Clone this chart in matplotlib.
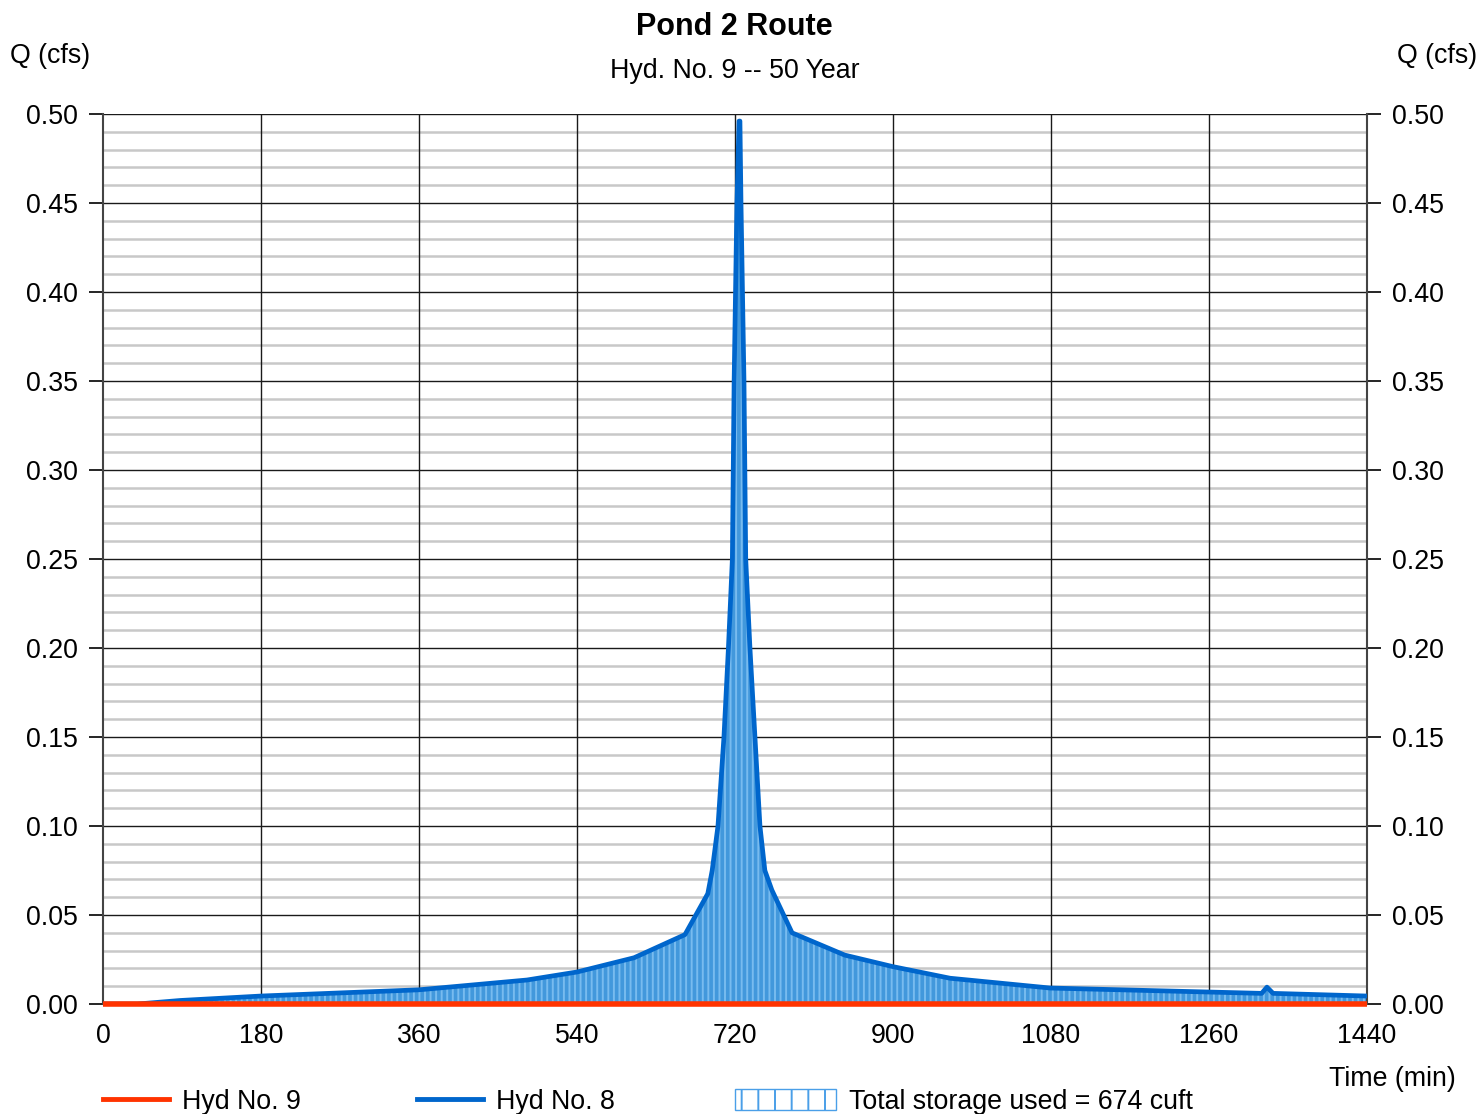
import matplotlib
matplotlib.use("Agg")
import matplotlib.pyplot as plt
from matplotlib.lines import Line2D
from matplotlib.patches import Patch
import numpy as np

plt.rcParams["font.family"] = ["Liberation Sans", "DejaVu Sans"]
plt.rcParams["hatch.linewidth"] = 1.4

# Hyd No. 8 inflow hydrograph (min, cfs)
time_in = [0, 39, 88, 180, 360, 483, 540, 605, 663, 689, 694, 700.6, 707.4,
           712.5, 717, 719, 722.2, 724.6, 725.6, 726.8, 730.2, 732.2, 737,
           742.7, 748.4, 754, 762, 785, 845, 900, 965, 1079, 1320, 1326, 1333,
           1440]
q_in = [0.0, 0.0, 0.002, 0.0045, 0.008, 0.0135, 0.018, 0.026, 0.039, 0.062,
        0.075, 0.10, 0.15, 0.20, 0.25, 0.35, 0.45, 0.496, 0.496, 0.45, 0.35,
        0.25, 0.20, 0.15, 0.10, 0.075, 0.064, 0.040, 0.0275, 0.021, 0.0145,
        0.009, 0.006, 0.0095, 0.006, 0.0045]

# Hyd No. 9 outflow hydrograph (zero throughout)
time_out = [0, 1440]
q_out = [0.0, 0.0]

storage_label = "Total storage used = 674 cuft"
x_ticks = [0, 180, 360, 540, 720, 900, 1080, 1260, 1440]
y_ticks = [0.00, 0.05, 0.10, 0.15, 0.20, 0.25, 0.30, 0.35, 0.40, 0.45, 0.50]

fs = 19.3

fig = plt.figure(figsize=(14.78, 11.14), dpi=100)
ax = fig.add_axes([0.0697, 0.0987, 0.8552, 0.799])

ax.fill_between(time_in, q_out[0], q_in, facecolor="#4298dc", edgecolor="#78bbef",
                hatch="|||", linewidth=0, zorder=2)
ax.plot(time_in, q_in, color="#0066cc", lw=3.4, zorder=4, solid_joinstyle="round")
ax.plot(time_out, q_out, color="#ff3300", lw=4, zorder=5, clip_on=False,
        solid_capstyle="butt")

ax.set_xlim(0, 1440)
ax.set_ylim(0, 0.5)
ax.set_xticks(x_ticks)
ax.set_yticks(y_ticks)
ax.set_yticks(np.arange(0, 0.501, 0.01), minor=True)
ax.set_yticklabels([f"{v:.2f}" for v in y_ticks])

ax.set_axisbelow(True)
ax.grid(which="minor", axis="y", color="#c8c8c8", lw=1.8)
ax.grid(which="major", axis="y", color="#1a1a1a", lw=1.0)
for xv in x_ticks[1:-1]:
    ax.axvline(xv, color="#1a1a1a", lw=1.0, zorder=0.8)

for s in ["top", "bottom"]:
    ax.spines[s].set_visible(False)
for s in ["left", "right"]:
    ax.spines[s].set_color("#444444")
    ax.spines[s].set_linewidth(1.5)

ax.tick_params(axis="y", which="major", direction="out", length=10, width=1.2,
               labelsize=fs, left=True, right=True, labelleft=True, labelright=True,
               pad=8)
ax.tick_params(axis="y", which="minor", length=0)
ax.tick_params(axis="x", length=0, labelsize=fs, pad=14)

fig.text(0.497, 0.976, "Pond 2 Route", ha="center", va="center",
         fontsize=22, fontweight="bold")
fig.text(0.497, 0.936, "Hyd. No. 9 -- 50 Year", ha="center", va="center", fontsize=fs)
fig.text(0.034, 0.950, "Q (cfs)", ha="center", va="center", fontsize=fs)
fig.text(0.9725, 0.950, "Q (cfs)", ha="center", va="center", fontsize=fs)
fig.text(0.942, 0.031, "Time (min)", ha="center", va="center", fontsize=fs)

leg_kw = dict(frameon=False, fontsize=fs, loc="center left", borderaxespad=0,
              borderpad=0, handletextpad=0.5)
fig.legend(handles=[Line2D([], [], color="#ff3300", lw=3.5)], labels=["Hyd No. 9"],
           bbox_to_anchor=(0.0697, 0.011), handlelength=2.45, **leg_kw)
fig.legend(handles=[Line2D([], [], color="#0066cc", lw=3.5)], labels=["Hyd No. 8"],
           bbox_to_anchor=(0.2821, 0.011), handlelength=2.45, **leg_kw)
fig.legend(handles=[Patch(facecolor="white", edgecolor="#4a9fe8", hatch="|", lw=1)],
           labels=[storage_label], bbox_to_anchor=(0.4973, 0.011),
           handlelength=3.75, handleheight=0.85, **leg_kw)

fig.savefig("out.png", dpi=100)
